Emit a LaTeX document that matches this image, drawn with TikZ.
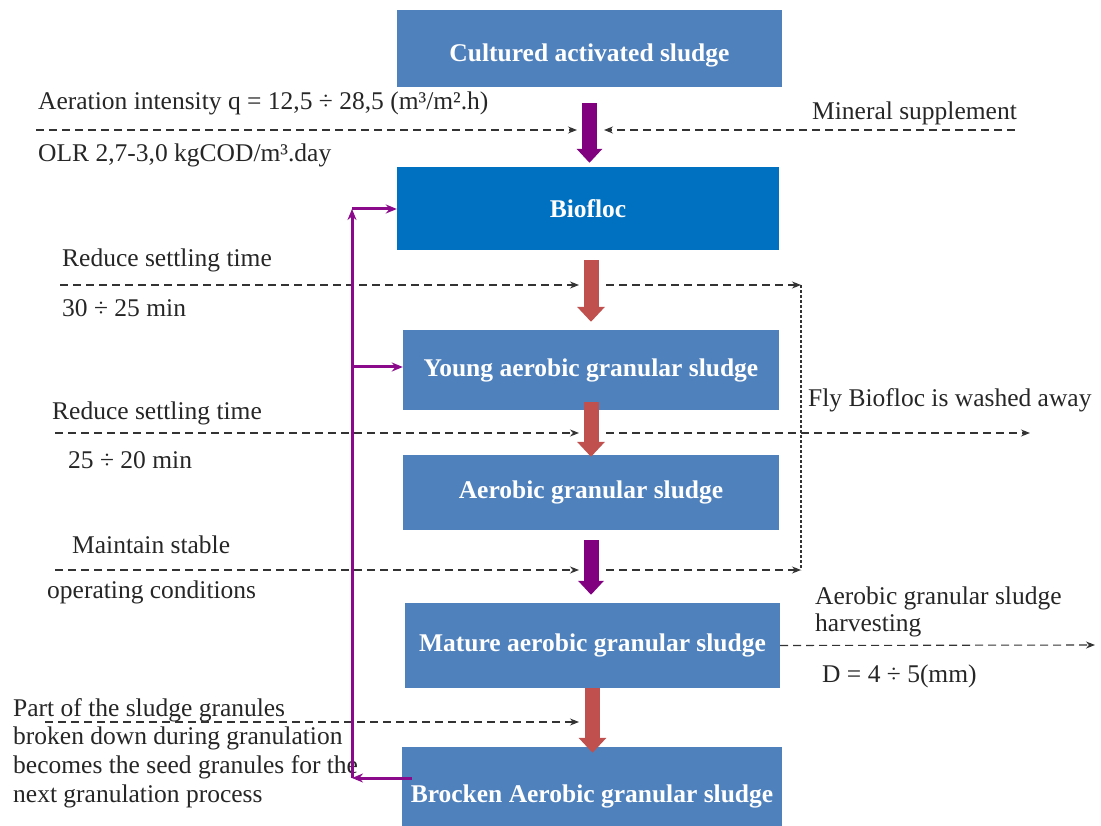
\documentclass[tikz,border=0pt]{standalone}
\usepackage{fontspec}
\setmainfont{Liberation Serif}
\usetikzlibrary{arrows.meta}

\definecolor{boxblue}{HTML}{4F81BD}
\definecolor{flocblue}{HTML}{0070C0}
\definecolor{arrred}{HTML}{C0504D}
\definecolor{arrpurple}{HTML}{800080}
\definecolor{fbpurple}{HTML}{8B0A8B}

\tikzstyle{stage} = [fill=boxblue, text=white, inner sep=0pt, font=\fontsize{25.5}{30}\selectfont\bfseries]
\tikzstyle{note} = [inner sep=0pt, anchor=west, text=black!85, font=\fontsize{25.5}{28.7}\selectfont]
\tikzstyle{feed} = [draw=black!80, line width=1.1pt, dash pattern=on 8pt off 5pt, -{Stealth[length=9pt,width=7pt]}]
\tikzstyle{washline} = [draw=black!80, line width=1.3pt, dash pattern=on 3pt off 2pt]
\tikzstyle{bigred} = [draw=arrred, line width=15pt, -{Triangle[width=27pt,length=15pt]}]
\tikzstyle{bigpurple} = [draw=arrpurple, line width=15pt, -{Triangle[width=25pt,length=14pt]}]
\tikzstyle{recycle} = [draw=fbpurple, line width=3pt, -{Stealth[length=11pt,width=9pt]}]

\begin{document}
\begin{tikzpicture}[x=1pt, y=-1pt]
\useasboundingbox (0,0) rectangle (1101,826);
%begin stages
\node[stage, minimum width=385pt, minimum height=77pt, text height=31pt] (cult) at (589.5,48.5) {Cultured activated sludge};
\node[stage, fill=flocblue, minimum width=382pt, minimum height=83pt] (bio) at (588,208.5) {Biofloc};
\node[stage, minimum width=376pt, minimum height=80pt] (yng) at (591,370) {Young aerobic granular sludge};
\node[stage, minimum width=376pt, minimum height=75pt] (agr) at (591,492.5) {Aerobic granular sludge};
\node[stage, minimum width=375pt, minimum height=85pt] (mat) at (592.5,645.5) {Mature aerobic granular sludge};
\node[stage, minimum width=380pt, minimum height=98pt] (brk) at (592,796) {Brocken Aerobic granular sludge};
%end stages
%begin big arrows
\draw[bigpurple, shorten <=16pt, shorten >=4pt] (cult.south) -- (cult.south |- bio.north);
\draw[bigred, shorten <=10pt, shorten >=8pt] (yng.north |- bio.south) -- (yng.north);
\draw[bigred, shorten <=-8pt, shorten >=-2pt] (yng.south) -- (agr.north);
\draw[bigpurple, shorten <=10pt, shorten >=8pt] (agr.south) -- (agr.south |- mat.north);
\draw[bigred, shorten >=-6pt] (mat.south) -- (mat.south |- brk.north);
%end big arrows
%begin conditions left
\node[note] (aer) at (38,103) {Aeration intensity q = 12,5 ÷ 28,5 (m³/m².h)};
\node[note] (olr) at (38,155) {OLR 2,7-3,0 kgCOD/m³.day};
\node[note] (set1) at (62,260) {Reduce settling time};
\node[note] (min1) at (62,308) {30 ÷ 25 min};
\node[note] (set2) at (52,413) {Reduce settling time};
\node[note] (min2) at (68,460) {25 ÷ 20 min};
\node[note] (stab1) at (72,545) {Maintain stable};
\node[note] (stab2) at (47,592) {operating conditions};
\node[note, anchor=north west, align=left] (seed) at (13,698) {Part of the sludge granules\\broken down during granulation\\becomes the seed granules for the\\next granulation process};
%end conditions left
%begin outputs right
\node[note] (mineral) at (812,113) {Mineral supplement};
\node[note] (fly) at (808,400) {Fly Biofloc is washed away};
\node[note, align=left, font=\fontsize{25.5}{27}\selectfont] (harv) at (815,612) {Aerobic granular sludge\\harvesting};
\node[note] (dia) at (822,676) {D = 4 ÷ 5(mm)};
%end outputs right
%begin dashed lines
\coordinate (aerL) at (36,130);
\coordinate (aerR) at (577,130);
\coordinate (minR) at (1015,130);
\coordinate (minL) at (604,130);
\coordinate (s1L) at (60,285);
\coordinate (s1R) at (579,285);
\coordinate (s1b) at (606,285);
\coordinate (w1) at (801,285);
\coordinate (s2L) at (55,433);
\coordinate (s2R) at (579,433);
\coordinate (s2b) at (606,433);
\coordinate (flyR) at (1030,433);
\coordinate (s3L) at (55,570);
\coordinate (s3R) at (579,570);
\coordinate (s3b) at (606,570);
\coordinate (w3) at (801,570);
\coordinate (harvR) at (1095,645);
\coordinate (pL) at (45,722);
\coordinate (pR) at (579,722);
\draw[feed] (aerL) -- (aerR);
\draw[feed] (minR) -- (minL);
\draw[feed] (s1L) -- (s1R);
\draw[feed] (s1b) -- (w1);
\draw[feed] (s2L) -- (s2R);
\draw[feed] (s2b) -- (flyR);
\draw[feed] (s3L) -- (s3R);
\draw[feed] (s3b) -- (w3);
\draw[washline] (w1) -- (w3);
\draw[feed] (mat.east) -- (harvR);
\draw[feed] (pL) -- (pR);
%end dashed lines
%begin recycle
\coordinate (rB) at (352,778);
\coordinate (rT) at (352,209);
\coordinate (rM) at (352,367);
\draw[recycle] ([xshift=10pt]brk.west |- rB) -- (rB);
\draw[recycle] (rB) -- (rT);
\draw[recycle] (rT) -- (rT -| bio.west);
\draw[recycle] (rM) -- (rM -| yng.west);
%end recycle
\end{tikzpicture}
\end{document}
